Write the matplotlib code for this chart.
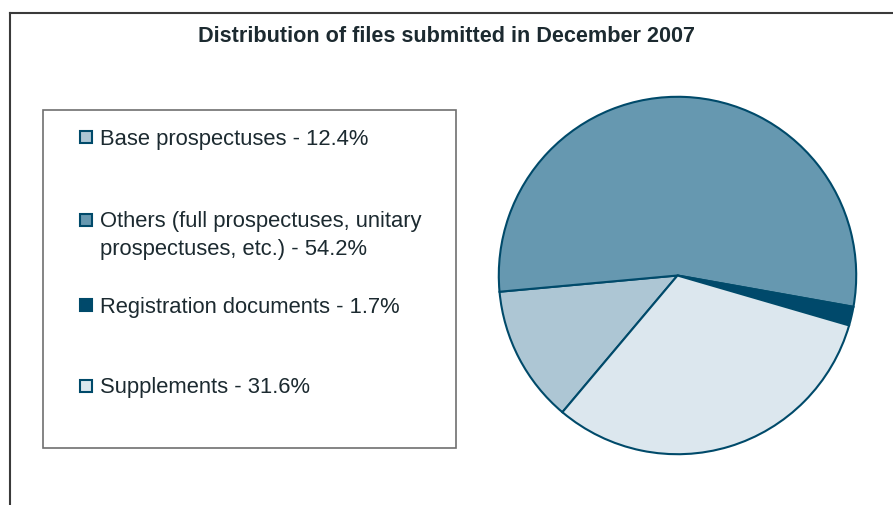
import matplotlib.pyplot as plt
from matplotlib.patches import Rectangle

# Données
categories = ['Base prospectuses',
              'Others (full prospectuses, unitary\nprospectuses, etc.)',
              'Registration documents',
              'Supplements']
values = [12.4, 54.2, 1.7, 31.6]
colors = ['#adc6d4', '#6698b0', '#00496b', '#dce7ee']
edge = '#004a6a'

W, H = 893, 505
fig = plt.figure(figsize=(W / 100, H / 100), dpi=100)

# Cadre (haut et gauche seulement, le reste est coupé)
frame = fig.add_axes([0, 0, 1, 1])
frame.set_xlim(0, W)
frame.set_ylim(H, 0)
frame.axis('off')
frame.plot([10, W + 5], [13, 13], color='#3a3a3a', lw=1.5)
frame.plot([10, 10], [13, H + 5], color='#3a3a3a', lw=1.5)

# Titre
frame.text(447, 37, 'Distribution of files submitted in December 2007',
           ha='center', va='center', fontsize=15.6, fontweight='bold',
           color='#1c2a30', family='Liberation Sans')

# Boîte de légende
frame.add_patch(Rectangle((43, 110), 413, 338, facecolor='white',
                          edgecolor='#707070', lw=1.2))
ys = [137, 220, 305, 386]
for cat, v, c, y in zip(categories, values, colors, ys):
    frame.add_patch(Rectangle((80, y - 6), 12, 12, facecolor=c, edgecolor=edge, lw=1.5))
    lines = f'{cat} - {v}%'.split('\n')
    for k, line in enumerate(lines):
        frame.text(100, y + 2 + 28 * k, line, ha='left', va='center',
                   fontsize=15.8, color='#1c2a30', family='Liberation Sans')

# Camembert
cx, cy, r = 677.5, 275.5, 180.5
ax = fig.add_axes([(cx - r) / W, (H - cy - r) / H, 2 * r / W, 2 * r / H])
ax.pie(values, colors=colors, startangle=229.9, counterclock=False,
       wedgeprops=dict(edgecolor=edge, linewidth=1.5))
ax.set_xlim(-1.01, 1.01)
ax.set_ylim(-1.01, 1.01)

plt.savefig('out.png', dpi=100)
